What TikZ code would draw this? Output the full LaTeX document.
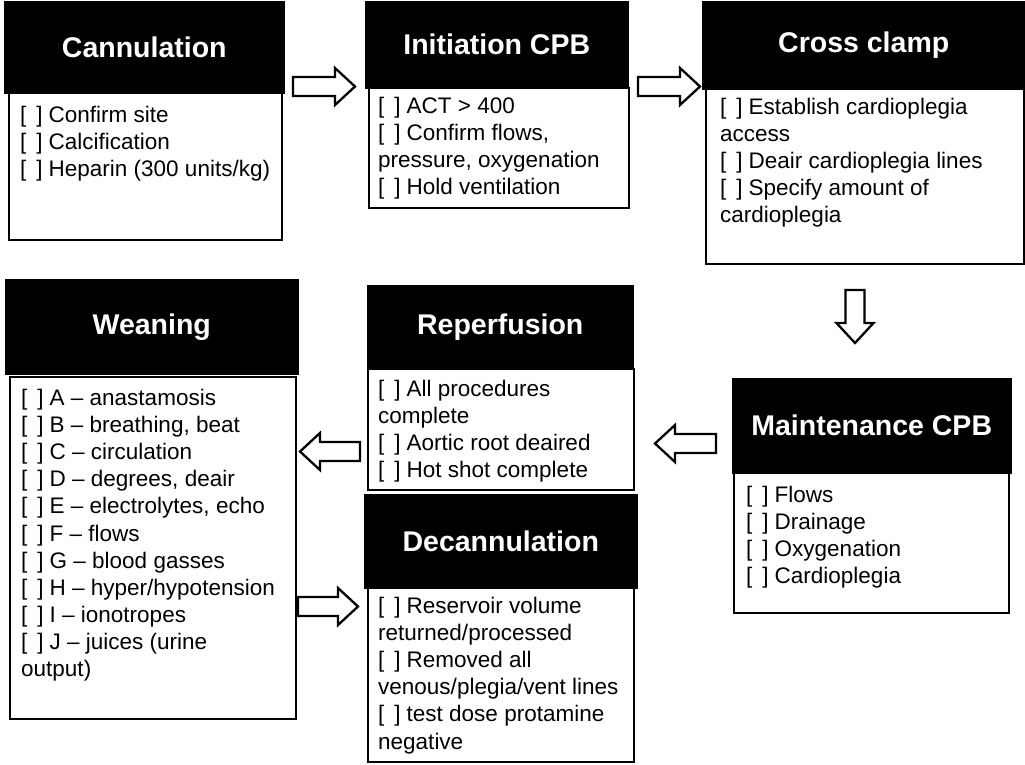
\documentclass[tikz,border=0pt]{standalone}
\usepackage{fontspec}
\setmainfont{Liberation Sans}
\usetikzlibrary{calc}
\newcommand\cbx{[\hspace{10pt}]\hspace{6pt}}
\tikzset{
  hdr/.style={draw=black, fill=black, text=white, line width=1.5pt, anchor=north west,
    font=\fontsize{28.5}{32}\selectfont\bfseries, inner sep=0pt},
  bodybox/.style={draw=black, fill=white, line width=2pt, anchor=north west, inner sep=0pt},
  bodytext/.style={anchor=north west, inner sep=0pt, align=left,
    font=\fontsize{22.5}{27.1}\selectfont},
  blockto/.style={draw=black, line width=2.3pt, fill=white, line join=miter,
    to path={let \p1=(\tikztostart), \p2=(\tikztotarget),
      \n1={atan2(\y2-\y1,\x2-\x1)}, \n2={veclen(\x2-\x1,\y2-\y1)}, \n3={\n2-20pt} in
      [shift={(\p1)}, rotate=\n1]
      (0pt,-9.5pt) -- (\n3,-9.5pt) -- (\n3,-18.5pt) -- (\n2,0pt)
      -- (\n3,18.5pt) -- (\n3,9.5pt) -- (0pt,9.5pt) -- cycle}}
}
\begin{document}
\begin{tikzpicture}[x=1pt,y=-1pt]
\useasboundingbox[fill=white] (0,0) rectangle (1025,764);

% Cannulation
\node[bodybox, minimum width=273pt, minimum height=147pt] (canb) at (8,92) {};
\node[hdr, minimum width=279pt, minimum height=91pt] (canh) at (4,1) {Cannulation};
\node[bodytext] (cant) at (20,106) {\cbx Confirm site\\ \cbx Calcification\\ \cbx Heparin (300 units/kg)};

% Initiation CPB
\node[bodybox, minimum width=260pt, minimum height=120pt] (initb) at (368,87) {};
\node[hdr, minimum width=262pt, minimum height=86pt] (inith) at (365,1) {Initiation CPB};
\node[bodytext] (initt) at (378,97) {\cbx ACT > 400\\ \cbx Confirm flows,\\ pressure, oxygenation\\ \cbx Hold ventilation};

% Cross clamp
\node[bodybox, minimum width=318pt, minimum height=175pt] (crossb) at (705,88) {};
\node[hdr, minimum width=322pt, minimum height=87pt] (crossh) at (702,1) {Cross clamp};
\node[bodytext] (crosst) at (720,98) {\cbx Establish cardioplegia\\ access\\ \cbx Deair cardioplegia lines\\ \cbx Specify amount of\\ cardioplegia};

% Maintenance CPB
\node[bodybox, minimum width=275pt, minimum height=140pt] (maintb) at (733,472) {};
\node[hdr, minimum width=278pt, minimum height=94pt] (mainth) at (732,378) {Maintenance CPB};
\node[bodytext] (maintt) at (746,486) {\cbx Flows\\ \cbx Drainage\\ \cbx Oxygenation\\ \cbx Cardioplegia};

% Reperfusion
\node[bodybox, minimum width=266pt, minimum height=121pt] (repb) at (367,368) {};
\node[hdr, minimum width=265pt, minimum height=83pt] (reph) at (367,285) {Reperfusion};
\node[bodytext] (rept) at (378,380) {\cbx All procedures\\ complete\\ \cbx Aortic root deaired\\ \cbx Hot shot complete};

% Decannulation
\node[bodybox, minimum width=266pt, minimum height=174pt] (decb) at (367,587) {};
\node[hdr, minimum width=272pt, minimum height=93pt] (dech) at (364,494) {Decannulation};
\node[bodytext] (dect) at (378,597) {\cbx Reservoir volume\\ returned/processed\\ \cbx Removed all\\ venous/plegia/vent lines\\ \cbx test dose protamine\\ negative};

% Weaning
\node[bodybox, minimum width=286pt, minimum height=342pt] (weanb) at (9,376) {};
\node[hdr, minimum width=292pt, minimum height=94pt] (weanh) at (5,279) {Weaning};
\node[bodytext] (weant) at (21,389) {\cbx A -- anastamosis\\ \cbx B -- breathing, beat\\ \cbx C -- circulation\\ \cbx D -- degrees, deair\\ \cbx E -- electrolytes, echo\\ \cbx F -- flows\\ \cbx G -- blood gasses\\ \cbx H -- hyper/hypotension\\ \cbx I -- ionotropes\\ \cbx J -- juices (urine\\ output)};

% arrows
\coordinate (a1s) at (293,86.5); \coordinate (a1e) at (355,86.5);
\coordinate (a2s) at (638,86.5); \coordinate (a2e) at (700,86.5);
\coordinate (a3s) at (855,290); \coordinate (a3e) at (855,343);
\coordinate (a4s) at (716,443.5); \coordinate (a4e) at (655,443.5);
\coordinate (a5s) at (360,451.5); \coordinate (a5e) at (300,451.5);
\coordinate (a6s) at (298,606.5); \coordinate (a6e) at (358,606.5);
\draw[blockto] (a1s) to (a1e);
\draw[blockto] (a2s) to (a2e);
\draw[blockto] (a3s) to (a3e);
\draw[blockto] (a4s) to (a4e);
\draw[blockto] (a5s) to (a5e);
\draw[blockto] (a6s) to (a6e);
\end{tikzpicture}
\end{document}
